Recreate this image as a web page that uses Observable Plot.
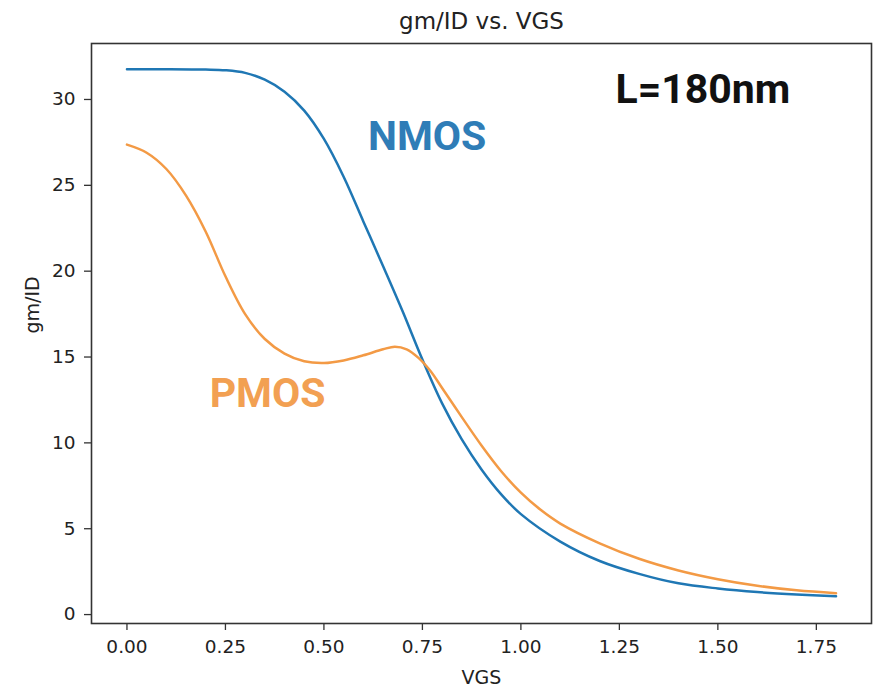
<!DOCTYPE html>
<html>
<head>
<meta charset="utf-8">
<script src="https://cdn.jsdelivr.net/npm/d3@7"></script>
<script src="https://cdn.jsdelivr.net/npm/@observablehq/plot@0.6"></script>
<style>
  html, body { margin: 0; padding: 0; background: #fff; }
</style>
</head>
<body>
<div id="chart"></div>
<script>
// VGS sample points (V) and gm/ID values
const nmosVgs = [0.00, 0.10, 0.20, 0.25, 0.30, 0.35, 0.40, 0.45, 0.50, 0.55, 0.60, 0.65, 0.70, 0.75, 0.80, 0.85, 0.90, 0.95, 1.00, 1.10, 1.20, 1.30, 1.40, 1.50, 1.60, 1.70, 1.80];
const nmosGmId = [31.76, 31.76, 31.74, 31.70, 31.55, 31.15, 30.45, 29.35, 27.70, 25.50, 22.90, 20.30, 17.65, 14.85, 12.30, 10.20, 8.45, 7.00, 5.85, 4.25, 3.12, 2.37, 1.82, 1.52, 1.31, 1.17, 1.07];

const pmosVgs = [0.00, 0.05, 0.10, 0.15, 0.20, 0.25, 0.30, 0.35, 0.40, 0.45, 0.50, 0.55, 0.60, 0.65, 0.68, 0.71, 0.74, 0.77, 0.80, 0.85, 0.90, 0.95, 1.00, 1.05, 1.10, 1.20, 1.30, 1.40, 1.50, 1.60, 1.70, 1.80];
const pmosGmId = [27.37, 26.90, 25.95, 24.40, 22.30, 19.70, 17.50, 16.05, 15.20, 14.75, 14.65, 14.80, 15.10, 15.45, 15.60, 15.45, 14.95, 14.20, 13.20, 11.50, 9.85, 8.35, 7.10, 6.10, 5.30, 4.15, 3.25, 2.57, 2.06, 1.68, 1.41, 1.24];

const xTicks = [0, 0.25, 0.5, 0.75, 1.0, 1.25, 1.5, 1.75];
const yTicks = [0, 5, 10, 15, 20, 25, 30];

const titleText = "gm/ID vs. VGS";
const xLabel = "VGS";
const yLabel = "gm/ID";

// annotation texts placed at data coordinates
const annoText = ["NMOS", "PMOS", "L=180nm"];
const annoX = [0.762, 0.357, 1.462];
const annoY = [27.85, 12.86, 30.55];
const annoColor = ["#2f7db7", "#f2a052", "#111111"];

const nmos = nmosVgs.map((v, i) => ({vgs: v, g: nmosGmId[i]}));
const pmos = pmosVgs.map((v, i) => ({vgs: v, g: pmosGmId[i]}));
const annos = annoText.map((t, i) => ({t, x: annoX[i], y: annoY[i], c: annoColor[i]}));

const chart = Plot.plot({
  width: 873,
  height: 688,
  marginLeft: 91,
  marginRight: 2,
  marginTop: 43,
  marginBottom: 65,
  style: {fontFamily: "DejaVu Sans", fontSize: "18.5px", color: "#222", background: "#fff"},
  x: {domain: [-0.09, 1.89]},
  y: {domain: [-0.52, 33.26]},
  marks: [
    Plot.axisX({ticks: xTicks, tickFormat: d3.format(".2f"), tickSize: 7, tickPadding: 9, label: null, stroke: "#333", strokeWidth: 1.3}),
    Plot.axisY({ticks: yTicks, tickFormat: d3.format("d"), tickSize: 7, tickPadding: 9, label: null, stroke: "#333", strokeWidth: 1.3}),
    Plot.line(nmos, {x: "vgs", y: "g", stroke: "#1f77b4", strokeWidth: 2.5, curve: "catmull-rom"}),
    Plot.line(pmos, {x: "vgs", y: "g", stroke: "#f39a45", strokeWidth: 2.5, curve: "catmull-rom"}),
    Plot.frame({stroke: "#333", strokeWidth: 1.6}),
    Plot.text(annos, {x: "x", y: "y", text: "t", fill: "c", fontFamily: "Roboto", fontWeight: "bold", fontSize: 41}),
    Plot.text([titleText], {frameAnchor: "top", lineAnchor: "middle", dy: -22, fontSize: 23, fill: "#222"}),
    Plot.text([xLabel], {frameAnchor: "bottom", lineAnchor: "middle", dy: 54, fontSize: 19, fill: "#222"}),
    Plot.text([yLabel], {frameAnchor: "left", lineAnchor: "middle", dx: -59, rotate: -90, fontSize: 19, fill: "#222"})
  ]
});
document.getElementById("chart").appendChild(chart);
</script>
</body>
</html>
